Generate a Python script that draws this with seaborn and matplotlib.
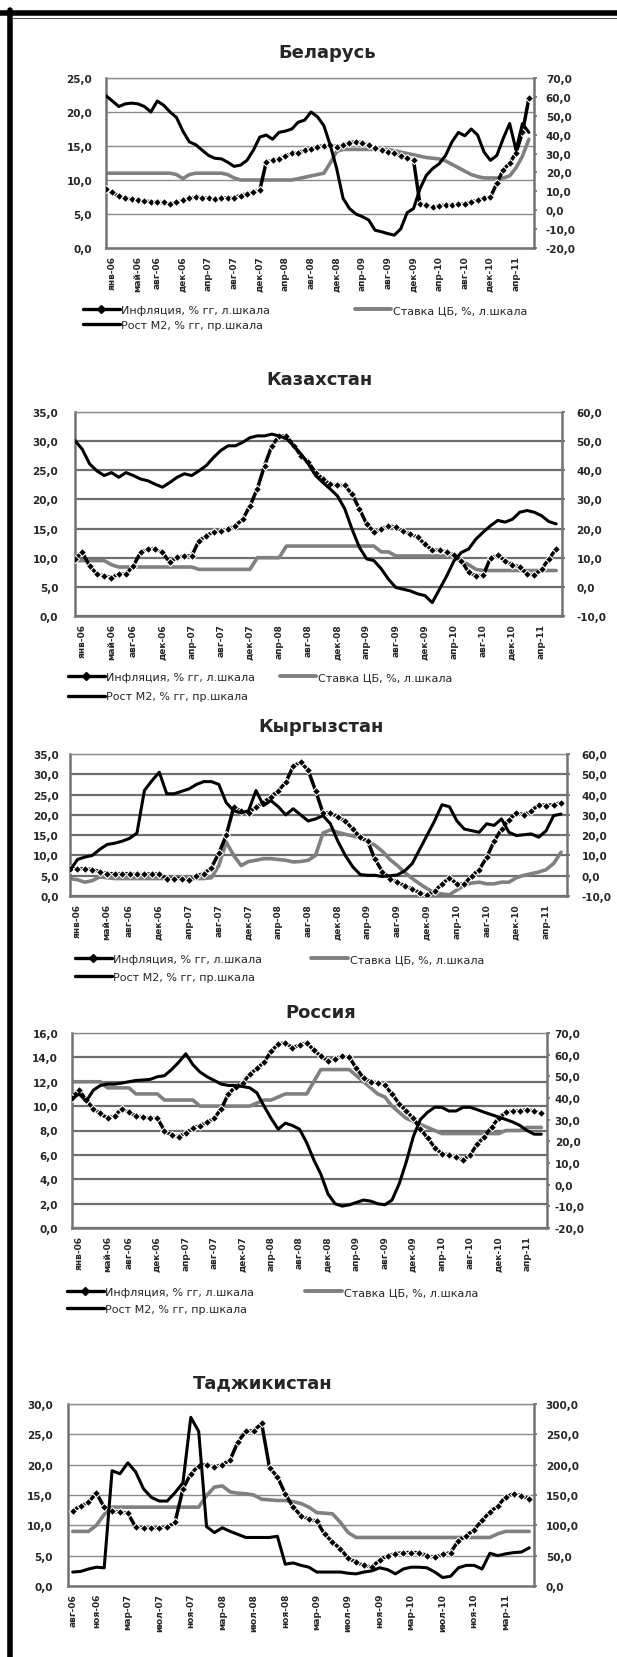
import numpy as np
import seaborn as sns
import matplotlib.pyplot as plt
from matplotlib.lines import Line2D
from matplotlib.ticker import FuncFormatter

# ---------------- data ----------------
# monthly points, panels 1-4 (axis starts just before янв-06)
months = list(range(67))
tick_pos = [1, 5, 8, 12, 16, 20, 24, 28, 32, 36, 40, 44, 48, 52, 56, 60, 64]
tick_lab = ['янв-06', 'май-06', 'авг-06', 'дек-06', 'апр-07', 'авг-07', 'дек-07',
            'апр-08', 'авг-08', 'дек-08', 'апр-09', 'авг-09', 'дек-09', 'апр-10',
            'авг-10', 'дек-10', 'апр-11']

# Таджикистан starts in авг-06
tjk_months = list(range(59))
tjk_tick_pos = [0, 3, 7, 11, 15, 19, 23, 27, 31, 35, 39, 43, 47, 51, 55]
tjk_tick_lab = ['авг-06', 'ноя-06', 'мар-07', 'июл-07', 'ноя-07', 'мар-08', 'июл-08',
                'ноя-08', 'мар-09', 'июл-09', 'ноя-09', 'мар-10', 'июл-10', 'ноя-10',
                'мар-11']

# Беларусь
bel_infl = [8.7, 8.2, 7.6, 7.3, 7.2, 7.0, 6.9, 6.8, 6.7, 6.7, 6.5, 6.7, 7.0, 7.3, 7.5, 7.4,
            7.3, 7.2, 7.3, 7.4, 7.4, 7.7, 8.0, 8.2, 8.5, 12.6, 12.9, 13.1, 13.6, 13.9, 14.0,
            14.4, 14.6, 14.9, 15.0, 15.1, 14.9, 15.1, 15.5, 15.6, 15.5, 15.1, 14.7, 14.4,
            14.1, 13.9, 13.6, 13.2, 12.9, 6.5, 6.3, 6.0, 6.2, 6.3, 6.3, 6.4, 6.5, 6.8, 7.0,
            7.3, 7.5, 9.5, 11.5, 12.5, 14.0, 17.0, 22.0]
bel_rate = [11.0] * 11 + [10.8, 10.2, 10.8] + [11.0] * 5 + [10.8, 10.3] + [10.0] * 9 + \
           [10.2, 10.4, 10.6, 10.8, 11.0, 12.5, 14.2] + [14.5] * 8 + \
           [14.3, 14.1, 13.9, 13.7, 13.5, 13.3, 13.2, 13.1, 12.8, 12.3, 11.8, 11.3, 10.8,
            10.5, 10.3, 10.3, 10.3, 10.3, 10.6, 11.8, 13.5, 16.0]
bel_m2 = [60.6, 57.8, 54.9, 56.3, 56.7, 56.3, 54.9, 52.0, 57.8, 55.6, 52.0, 49.1, 41.9, 36.2,
          34.7, 31.8, 29.0, 27.5, 27.2, 25.4, 23.2, 23.9, 26.4, 31.8, 38.7, 39.8, 37.6, 41.2,
          41.9, 43.0, 46.6, 47.7, 52.0, 49.5, 44.8, 34.4, 22.1, 6.3, 0.9, -2.0, -3.4, -5.2,
          -10.6, -11.4, -12.4, -13.2, -9.9, -1.3, 0.9, 11.3, 18.5, 22.1, 24.6, 29.0, 36.2,
          41.2, 39.4, 43.0, 39.8, 30.8, 26.4, 29.0, 38.0, 45.9, 31.8, 45.9, 41.2]

# Казахстан
kaz_infl = [9.8, 10.9, 8.6, 7.2, 6.9, 6.6, 7.2, 7.2, 8.6, 10.9, 11.5, 11.5, 10.9, 9.2, 10.1,
            10.3, 10.3, 12.9, 13.8, 14.4, 14.6, 14.9, 15.5, 16.6, 18.9, 21.8, 25.8, 29.2,
            30.9, 30.9, 29.2, 27.5, 26.4, 24.6, 23.5, 22.6, 22.4, 22.4, 20.9, 18.4, 15.8,
            14.4, 14.9, 15.5, 15.2, 14.6, 14.1, 13.5, 12.3, 11.3, 11.3, 11.0, 10.5, 9.5, 7.5,
            6.9, 7.0, 10.0, 10.4, 9.5, 8.8, 8.4, 7.2, 7.0, 8.0, 9.8, 11.5]
kaz_rate = [9.5] * 5 + [8.8] + [8.4] * 11 + [8.0] * 8 + [10.0] * 4 + [12.0] * 13 + \
           [11.0] * 2 + [10.3] * 8 + [10.0, 9.5, 8.8, 8.0] + [7.8] * 11
kaz_m2 = [50.2, 47.2, 42.2, 39.8, 38.2, 39.2, 37.6, 39.2, 38.2, 37.0, 36.4, 35.2, 34.2, 35.8,
          37.6, 38.8, 38.2, 39.8, 41.6, 44.4, 46.8, 48.4, 48.4, 49.6, 51.2, 51.8, 51.8, 52.4,
          51.8, 50.8, 48.4, 45.6, 42.2, 38.2, 35.8, 33.6, 31.2, 26.8, 19.8, 13.6, 9.6, 9.0,
          6.2, 2.6, -0.2, -0.8, -1.4, -2.4, -3.0, -5.4, -0.8, 3.8, 9.0, 11.8, 13.0, 16.4,
          18.8, 21.0, 22.8, 22.2, 23.2, 25.6, 26.2, 25.6, 24.4, 22.4, 21.6]

# Кыргызстан
kgz_infl = [6.7, 6.7, 6.7, 6.5, 6.0, 5.5, 5.5, 5.5, 5.5, 5.3, 5.3, 5.5, 5.5, 4.3, 4.3, 4.3,
            3.9, 5.0, 5.5, 7.0, 10.5, 15.0, 21.9, 21.0, 20.5, 22.0, 23.0, 24.5, 26.0, 28.0,
            32.0, 33.0, 31.0, 26.0, 20.5, 20.5, 19.5, 18.5, 16.5, 14.5, 13.5, 9.0, 6.0, 4.3,
            3.5, 2.5, 1.8, 0.8, 0.2, 1.2, 3.0, 4.5, 3.0, 3.0, 5.0, 6.5, 9.5, 13.5, 16.5, 18.8,
            20.5, 20.0, 21.0, 22.5, 22.3, 22.5, 23.0]
kgz_rate = [4.3, 4.0, 3.4, 3.8, 4.7, 4.5] + [4.3] * 13 + \
           [4.5, 7.5, 13.3, 10.0, 7.5, 8.5, 8.8, 9.2, 9.2, 9.0, 8.8, 8.4, 8.5, 8.8, 10.0,
            15.5, 16.3, 15.7, 15.2, 14.8, 14.3, 13.5, 12.5, 11.0, 9.0, 7.5, 5.8, 4.3, 3.0,
            1.8, 0.8, 0.5, 0.3, 1.5, 2.6, 3.2, 3.4, 3.0, 3.0, 3.4, 3.4, 4.5, 5.1, 5.5, 5.9,
            6.5, 8.0, 10.8]
kgz_m2 = [2.6, 8.0, 9.2, 10.0, 13.0, 15.4, 16.0, 17.0, 18.4, 21.0, 42.0, 46.8, 51.0, 40.4,
          40.4, 41.6, 42.8, 45.0, 46.4, 46.4, 45.0, 36.0, 32.0, 31.0, 32.0, 42.0, 34.6, 37.0,
          34.0, 30.0, 33.0, 30.0, 27.0, 28.0, 29.6, 25.6, 17.0, 10.0, 4.4, 0.6, 0.2, 0.2,
          -0.4, 0.0, 0.4, 2.4, 6.0, 13.0, 20.0, 27.0, 35.0, 34.0, 27.0, 23.0, 22.2, 21.4,
          25.6, 24.8, 28.0, 21.4, 19.8, 20.2, 20.6, 19.0, 22.2, 29.6, 30.4]

# Россия
rus_infl = [10.7, 11.3, 10.5, 9.8, 9.4, 9.0, 9.2, 9.8, 9.5, 9.2, 9.1, 9.0, 9.0, 8.0, 7.6, 7.5,
            7.8, 8.2, 8.4, 8.7, 9.0, 9.8, 11.0, 11.6, 11.9, 12.6, 13.1, 13.6, 14.5, 15.1,
            15.2, 14.8, 15.0, 15.2, 14.6, 14.1, 13.7, 13.9, 14.1, 14.0, 13.1, 12.3, 12.0,
            11.9, 11.7, 11.0, 10.2, 9.6, 9.0, 8.1, 7.4, 6.6, 6.1, 6.0, 5.8, 5.6, 6.0, 6.9,
            7.5, 8.3, 9.0, 9.5, 9.6, 9.6, 9.7, 9.6, 9.4]
rus_rate = [12.0] * 5 + [11.5] * 4 + [11.0] * 4 + [10.5] * 5 + [10.0] * 8 + \
           [10.25, 10.5, 10.5, 10.75] + [11.0] * 4 + [12.0] + [13.0] * 5 + \
           [12.5, 12.0, 11.5, 11.0, 10.75, 10.0, 9.5, 9.0, 8.75, 8.5, 8.25, 8.0] + \
           [7.75] * 9 + [8.0] * 3 + [8.25] * 3
rus_m2 = [39.6, 41.9, 38.5, 43.6, 45.8, 46.4, 46.4, 46.9, 47.5, 48.1, 48.3, 48.6, 49.8, 50.3,
          53.1, 56.5, 60.4, 55.4, 52.0, 49.8, 48.1, 46.4, 45.8, 45.8, 45.3, 44.7, 42.4, 36.3,
          30.6, 25.6, 28.4, 27.3, 25.6, 19.4, 11.5, 4.8, -4.3, -8.8, -9.9, -9.3, -8.2, -7.1,
          -7.6, -8.8, -9.3, -7.1, 0.3, 10.4, 22.2, 30.1, 33.4, 35.7, 35.7, 34.0, 34.0, 35.7,
          35.7, 34.6, 33.4, 32.3, 31.2, 30.1, 28.9, 27.3, 25.0, 23.3, 23.3]

# Таджикистан
tjk_infl = [12.4, 13.2, 13.8, 15.3, 13.0, 12.3, 12.2, 12.0, 9.7, 9.6, 9.5, 9.6, 9.7, 10.5,
            16.0, 18.5, 19.8, 20.0, 19.6, 20.0, 20.8, 23.8, 25.5, 25.6, 26.8, 19.5, 18.0,
            15.2, 13.0, 11.6, 11.0, 10.7, 8.5, 7.3, 6.1, 4.6, 3.9, 3.4, 3.1, 4.3, 5.0, 5.3,
            5.5, 5.5, 5.5, 5.0, 4.7, 5.2, 5.5, 7.5, 8.3, 9.3, 10.8, 12.2, 13.2, 14.7, 15.2,
            14.9, 14.3]
tjk_rate = [9.0, 9.0, 9.0, 10.0, 11.8] + [13.0] * 12 + \
           [14.9, 16.3, 16.5, 15.5, 15.3, 15.2, 15.0, 14.3, 14.2, 14.1, 14.1, 13.9, 13.6,
            13.0, 12.1, 12.0, 11.9, 10.5, 8.8] + [8.0] * 18 + [8.6] + [9.0] * 4
tjk_m2 = [23, 24, 28, 31, 30, 190, 185, 203, 188, 160, 146, 140, 140, 154, 170, 278, 255, 98,
          88, 96, 90, 85, 80, 80, 80, 80, 82, 36, 38, 34, 31, 23, 23, 23, 23, 21, 20, 23, 25,
          30, 27, 20, 28, 31, 31, 30, 23, 14, 16, 30, 34, 34, 28, 54, 50, 53, 55, 56, 63]

legend_labels = ['Инфляция, % гг, л.шкала', 'Рост М2, % гг, пр.шкала', 'Ставка ЦБ, %, л.шкала']

# ---------------- layout (pixels) ----------------
W, H = 617, 1658
panels = [
    dict(title='Беларусь', x=months, infl=bel_infl, rate=bel_rate, m2=bel_m2,
         ticks=(tick_pos, tick_lab), xlim=(0, 66.8),
         box=(106, 79, 534, 249), left=(0, 25, 5), right=(-20, 70, 10),
         title_xy=(327, 53), grid=(1.0, '#8a8a8a'), lpad=10, rpad=6,
         legend=(83, 306, 7.6, 0.45)),
    dict(title='Казахстан', x=months, infl=kaz_infl, rate=kaz_rate, m2=kaz_m2,
         ticks=(tick_pos, tick_lab), xlim=(0, 66.8),
         box=(75, 413, 562, 617), left=(0, 35, 5), right=(-10, 60, 10),
         title_xy=(320, 380), grid=(1.6, '#6e6e6e'), lpad=12, rpad=8,
         legend=(68, 673, 2.2, 0.85)),
    dict(title='Кыргызстан', x=months, infl=kgz_infl, rate=kgz_rate, m2=kgz_m2,
         ticks=(tick_pos, tick_lab), xlim=(0, 66.8),
         box=(70, 755, 567, 897), left=(0, 35, 5), right=(-10, 60, 10),
         title_xy=(321, 727), grid=(1.6, '#6e6e6e'), lpad=8, rpad=8,
         legend=(75, 955, 4.4, 0.75)),
    dict(title='Россия', x=months, infl=rus_infl, rate=rus_rate, m2=rus_m2,
         ticks=(tick_pos, tick_lab), xlim=(0, 66.8),
         box=(72, 1034, 547, 1229), left=(0, 16, 2), right=(-20, 70, 10),
         title_xy=(321, 1013), grid=(1.6, '#6e6e6e'), lpad=10, rpad=3,
         legend=(67, 1288, 4.6, 0.65)),
    dict(title='Таджикистан', x=tjk_months, infl=tjk_infl, rate=tjk_rate, m2=tjk_m2,
         ticks=(tjk_tick_pos, tjk_tick_lab), xlim=(-0.6, 58.6),
         box=(68, 1405, 534, 1587), left=(0, 30, 5), right=(0, 300, 50),
         title_xy=(263, 1383), grid=(1.0, '#8a8a8a'), lpad=11, rpad=6,
         legend=None),
]

sns.set_style('white')
plt.rcParams['font.family'] = ['DejaVu Sans']

fig = plt.figure(figsize=(W / 100, H / 100), dpi=100)

comma = FuncFormatter(lambda v, pos: f'{v:.1f}'.replace('.', ','))
axis_col = '#737373'
rate_col = '#808080'

for p in panels:
    l, t, r, b = p['box']
    ax = fig.add_axes([l / W, 1 - b / H, (r - l) / W, (b - t) / H])
    ax2 = ax.twinx()

    # inflation: thick black line with dense diamond markers
    sns.lineplot(x=p['x'], y=p['infl'], ax=ax, color='black', lw=2.5,
                 marker='D', markersize=3.6, markeredgewidth=0.8, zorder=3)
    sns.lineplot(x=p['x'], y=p['rate'], ax=ax, color=rate_col, lw=2.6, zorder=2)
    sns.lineplot(x=p['x'], y=p['m2'], ax=ax2, color='black', lw=2.2, zorder=3)

    lo, hi, st = p['left']
    ax.set_ylim(lo, hi)
    ax.set_yticks(np.arange(lo, hi + st / 2, st))
    rlo, rhi, rst = p['right']
    ax2.set_ylim(rlo, rhi)
    ax2.set_yticks(np.arange(rlo, rhi + rst / 2, rst))
    for a in (ax, ax2):
        a.yaxis.set_major_formatter(comma)
        a.set_xlim(*p['xlim'])
        a.set_xlabel('')
        a.set_ylabel('')

    ax.set_xticks(p['ticks'][0])
    ax.set_xticklabels(p['ticks'][1], rotation=90, fontsize=6.5, fontweight='bold')
    ax.tick_params(axis='x', length=0, pad=5)
    ax.tick_params(axis='y', length=0, pad=p['lpad'], labelsize=7.5)
    ax2.tick_params(axis='y', length=2.5, width=1.3, color=axis_col, direction='out',
                    pad=p['rpad'], labelsize=7.5)
    for lab in ax.get_yticklabels() + ax2.get_yticklabels():
        lab.set_fontweight('bold')

    lw_g, col_g = p['grid']
    ax.yaxis.grid(True, color=col_g, lw=lw_g)
    ax.xaxis.grid(False)
    ax.set_axisbelow(True)

    for side in ('left', 'bottom'):
        ax.spines[side].set_color(axis_col)
        ax.spines[side].set_linewidth(1.8)
    ax.spines['top'].set_color('#8c8c8c')
    ax.spines['top'].set_linewidth(1.0)
    ax.spines['right'].set_visible(False)
    for side in ('left', 'top', 'bottom'):
        ax2.spines[side].set_visible(False)
    ax2.spines['right'].set_color(axis_col)
    ax2.spines['right'].set_linewidth(1.8)

    tx, ty = p['title_xy']
    fig.text(tx / W, 1 - ty / H, p['title'], ha='center', va='center',
             fontsize=13, fontweight='bold')

    if p['legend'] is not None:
        lx, ly, cs, ls = p['legend']
        handles = [
            Line2D([], [], color='black', lw=2.4, marker='D', markersize=4),
            Line2D([], [], color='black', lw=2.4),
            Line2D([], [], color=rate_col, lw=2.8),
        ]
        fig.legend(handles, legend_labels, loc='upper left',
                   bbox_to_anchor=(lx / W, 1 - ly / H), ncol=2, frameon=False,
                   fontsize=8, handlelength=3.3, handletextpad=0.15,
                   columnspacing=cs, labelspacing=ls, borderpad=0, borderaxespad=0)

# outer frame: thick + thin line on top, thick line on the left
fig.add_artist(Line2D([0, 1], [1 - 13.5 / H] * 2, transform=fig.transFigure,
                      color='black', lw=4.0))
fig.add_artist(Line2D([13 / W, 1], [1 - 18.5 / H] * 2, transform=fig.transFigure,
                      color='#555555', lw=0.8))
fig.add_artist(Line2D([10.5 / W] * 2, [0, 1 - 11 / H], transform=fig.transFigure,
                      color='black', lw=4.0))

fig.savefig('out.png', dpi=100)
